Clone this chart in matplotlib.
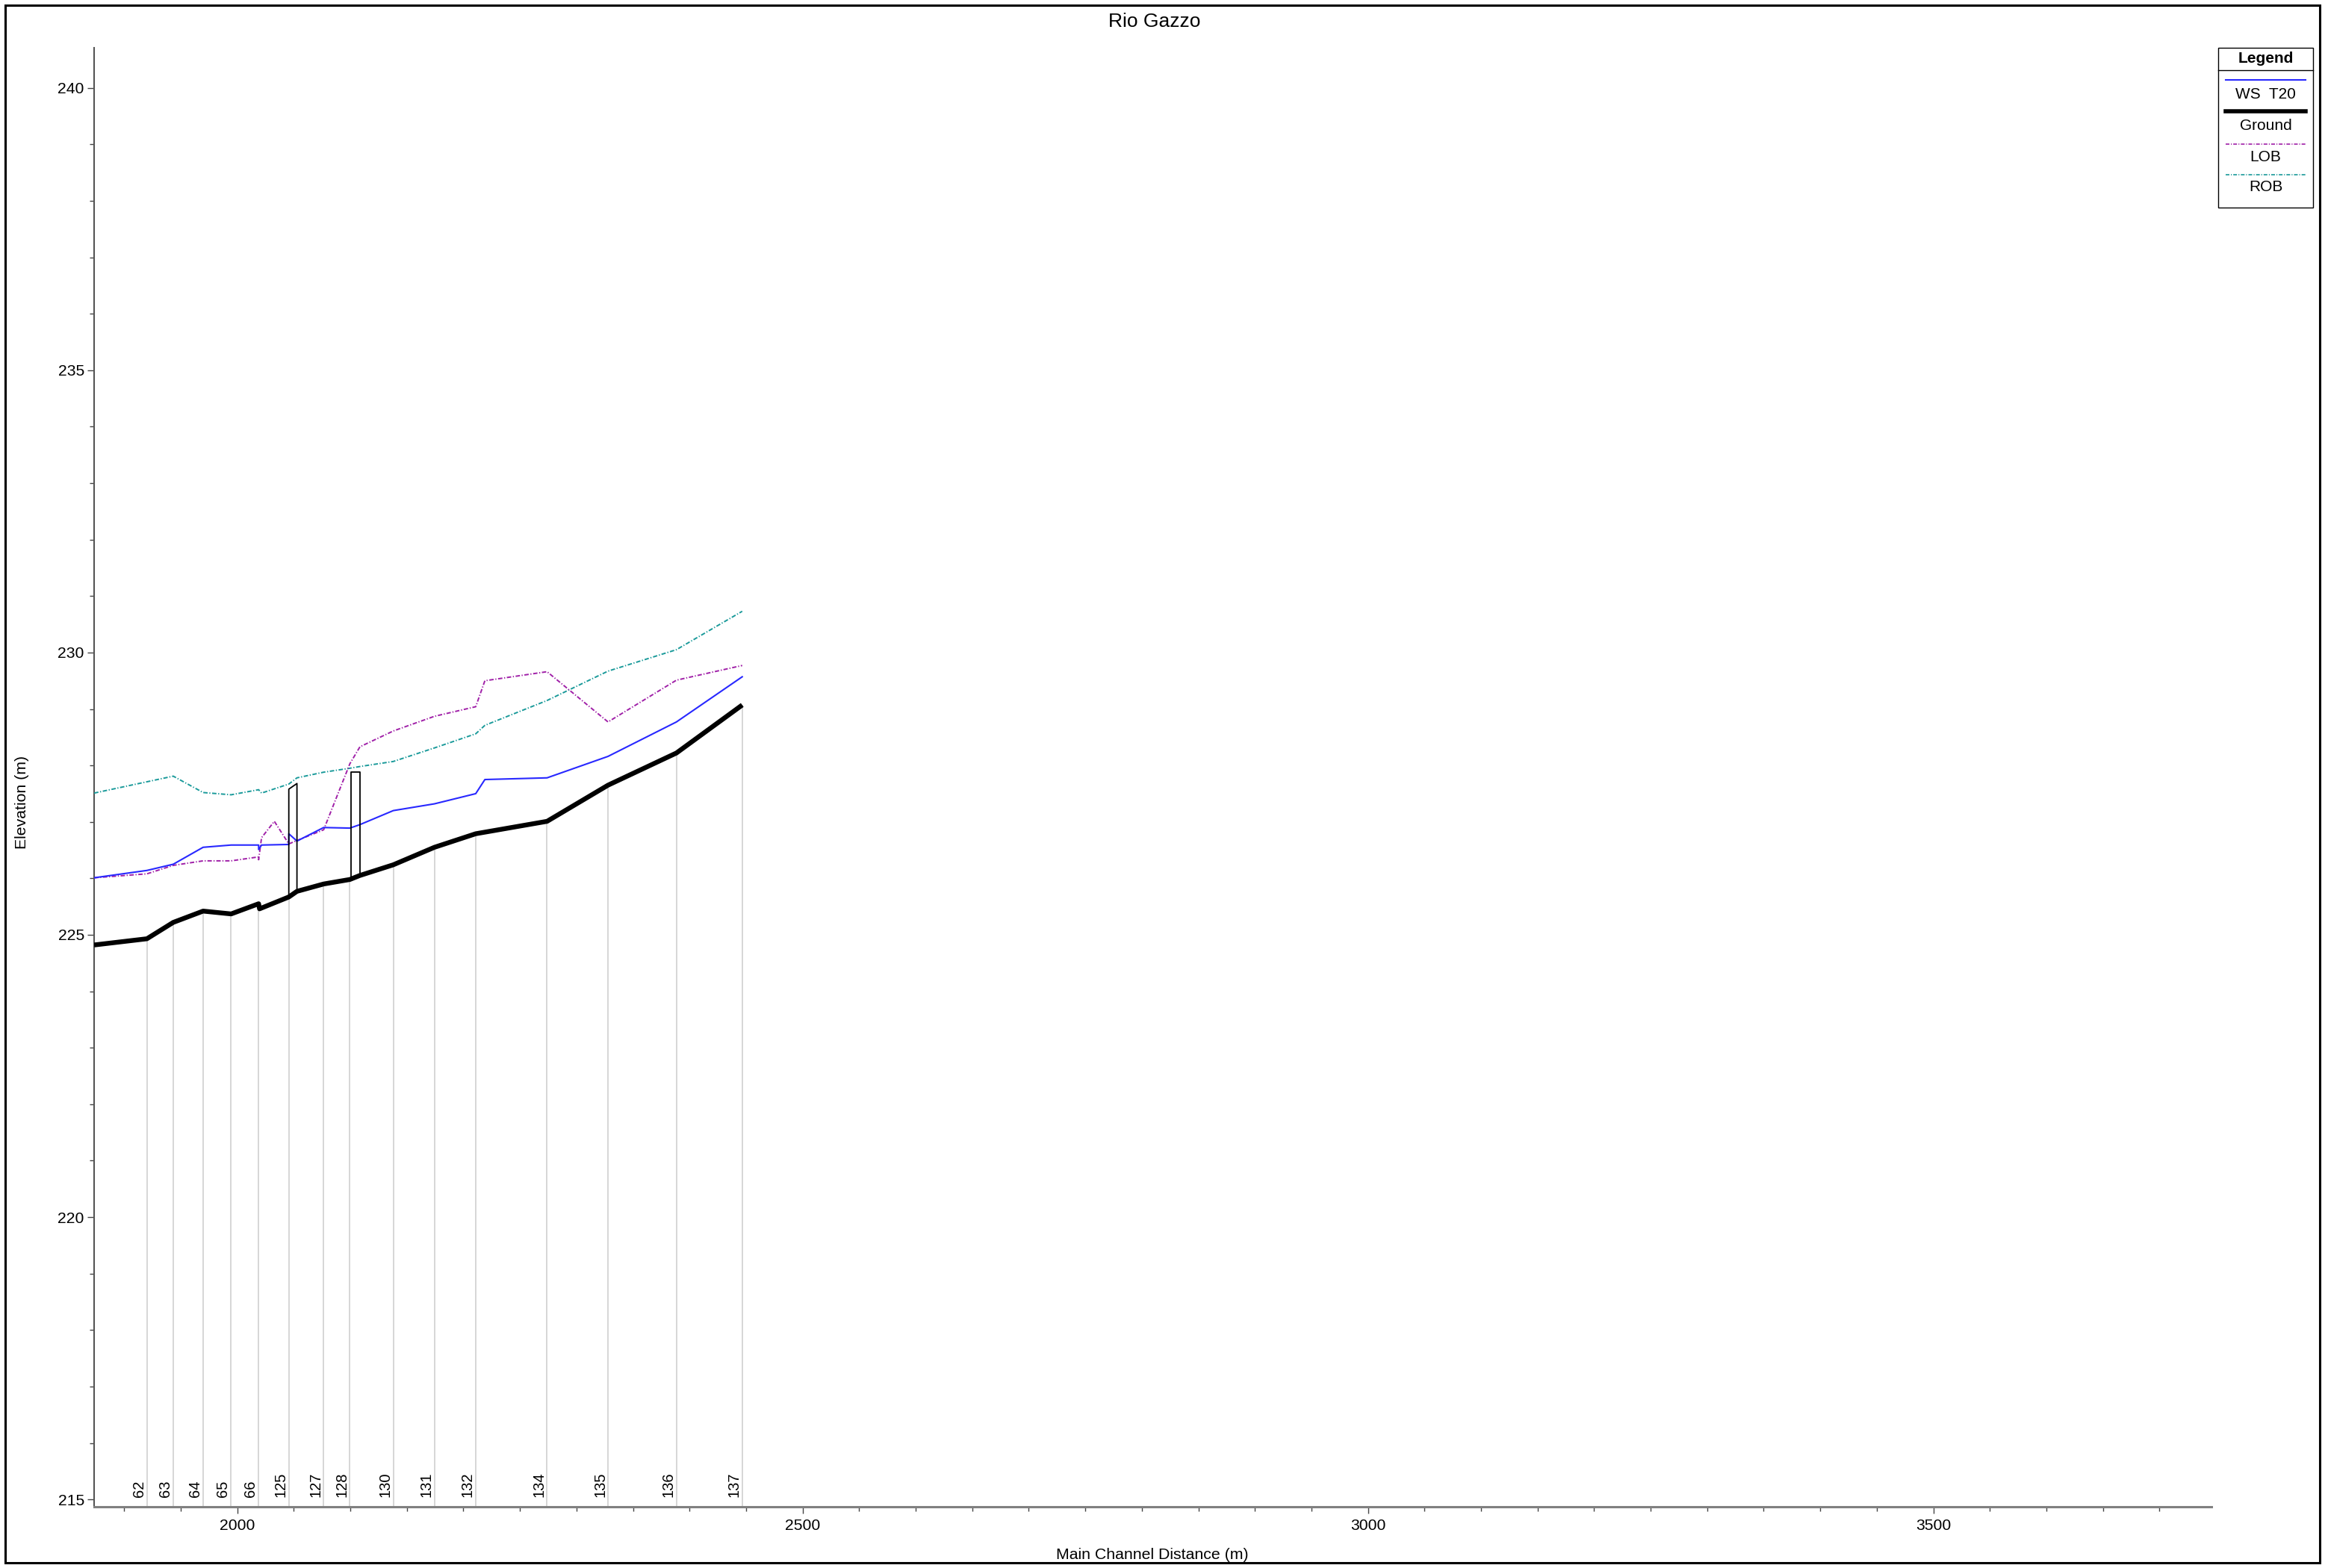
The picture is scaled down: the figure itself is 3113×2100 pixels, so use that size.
import matplotlib
matplotlib.use("Agg")
import matplotlib.pyplot as plt
import numpy as np
from matplotlib.lines import Line2D
from matplotlib.patches import Rectangle
from matplotlib.ticker import MultipleLocator
import matplotlib.transforms as mtransforms

plt.rcParams['font.family'] = ['Liberation Sans', 'DejaVu Sans']

# ---------------- data ----------------
title = "Rio Gazzo"

sec_names = ['62', '63', '64', '65', '66', '125', '127', '128', '130',
             '131', '132', '134', '135', '136', '137']
sec_x = [1920.1, 1943.4, 1969.8, 1994.6, 2018.9, 2045.6, 2076.4, 2099.6,
         2138.0, 2174.4, 2210.9, 2274.0, 2327.9, 2388.4, 2446.6]

ground_x = [1873.4, 1920.1, 1943.4, 1969.8, 1994.6, 2018.9, 2019.7, 2045.6,
            2052.8, 2076.4, 2099.6, 2108.3, 2138.0, 2174.4, 2210.9, 2274.0,
            2327.9, 2388.4, 2446.6]
ground_z = [224.82, 224.93, 225.22, 225.42, 225.37, 225.55, 225.46, 225.67,
            225.77, 225.90, 225.98, 226.05, 226.24, 226.55, 226.79, 227.01,
            227.65, 228.22, 229.07]

ws_x = [1873.4, 1920.1, 1943.4, 1969.8, 1994.6, 2018.9, 2018.9, 2021.5,
        2045.6, 2045.6, 2052.8, 2076.4, 2099.6, 2108.3, 2138.0, 2174.4,
        2210.9, 2219.0, 2274.0, 2327.9, 2388.4, 2446.6]
ws_z = [226.01, 226.14, 226.25, 226.55, 226.59, 226.59, 226.51, 226.59,
        226.60, 226.79, 226.66, 226.90, 226.89, 226.95, 227.20, 227.32,
        227.50, 227.75, 227.78, 228.16, 228.77, 229.57]

lob_x = [1873.4, 1920.1, 1943.4, 1969.8, 1994.6, 2018.9, 2018.9, 2021.5,
         2032.8, 2045.6, 2052.8, 2076.4, 2099.6, 2108.5, 2138.0, 2174.4,
         2210.9, 2219.0, 2274.0, 2327.9, 2388.4, 2446.6]
lob_z = [226.01, 226.08, 226.23, 226.31, 226.31, 226.38, 226.33, 226.72,
         227.01, 226.61, 226.67, 226.86, 228.03, 228.33, 228.61, 228.87,
         229.04, 229.50, 229.66, 228.77, 229.51, 229.77]

rob_x = [1873.4, 1943.4, 1969.8, 1994.6, 2018.9, 2021.5, 2045.6, 2052.8,
         2076.4, 2099.6, 2108.3, 2138.0, 2174.4, 2210.9, 2219.0, 2274.0,
         2327.9, 2388.4, 2446.6]
rob_z = [227.51, 227.81, 227.52, 227.48, 227.57, 227.51, 227.67, 227.78,
         227.88, 227.95, 227.98, 228.07, 228.31, 228.56, 228.71, 229.15,
         229.67, 230.05, 230.73]

# bridges: [x_left, x_right], top [left, right], bottom [left, right]
bridge1_x = [2045.6, 2052.8]
bridge1_top = [227.58, 227.68]
bridge1_bot = [225.67, 225.77]
bridge2_x = [2100.8, 2108.3]
bridge2_top = [227.88, 227.88]
bridge2_bot = [226.00, 226.05]

legend_labels = ['WS  T20', 'Ground', 'LOB', 'ROB']

xlim = (1873.4, 3746.0)
ylim = (214.87, 240.71)

# ---------------- figure ----------------
W, H = 3113, 2100
fig = plt.figure(figsize=(W / 100, H / 100), dpi=100)
ax = fig.add_axes([126 / W, 1 - 2018 / H, (2961 - 126) / W, (2018 - 64) / H])

ws_color = '#2828ff'
lob_color = '#a020a8'
rob_color = '#1a9a9a'

# section lines
g_at_sec = np.interp(sec_x, ground_x, ground_z)
ax.vlines(sec_x, ylim[0], g_at_sec, colors='#cccccc', linewidth=1.1, zorder=1)

ax.plot(rob_x, rob_z, color=rob_color, lw=1.4, dashes=(3, 1.2, 0.7, 1.2), zorder=3)
ax.plot(lob_x, lob_z, color=lob_color, lw=1.4, dashes=(3, 1.2, 0.7, 1.2), zorder=3)
ax.plot(ws_x, ws_z, color=ws_color, lw=1.5, zorder=4)

for bx, bt, bb in [(bridge1_x, bridge1_top, bridge1_bot), (bridge2_x, bridge2_top, bridge2_bot)]:
    px = [bx[0], bx[0], bx[1], bx[1]]
    py = [bb[0], bt[0], bt[1], bb[1]]
    ax.plot(px, py, color='black', lw=1.3, zorder=5)

ax.plot(ground_x, ground_z, color='black', lw=4.6, zorder=6, solid_capstyle='butt')

# section labels
trans = mtransforms.blended_transform_factory(ax.transData, ax.transAxes)
trans = mtransforms.offset_copy(trans, fig=fig, x=-1, y=0, units='dots')
for name, sx in zip(sec_names, sec_x):
    ax.text(sx, 0.0066, name, transform=trans, rotation=90, ha='right', va='bottom',
            fontsize=14.5, color='black', zorder=7)

ax.set_xlim(*xlim)
ax.set_ylim(*ylim)
ax.xaxis.set_major_locator(MultipleLocator(500))
ax.xaxis.set_minor_locator(MultipleLocator(50))
ax.yaxis.set_major_locator(MultipleLocator(5))
ax.yaxis.set_minor_locator(MultipleLocator(1))

for s in ['top', 'right']:
    ax.spines[s].set_visible(False)
ax.spines['left'].set_color('#555555')
ax.spines['left'].set_linewidth(1.5)
ax.spines['bottom'].set_color('#808080')
ax.spines['bottom'].set_linewidth(2.2)

ax.tick_params(axis='both', which='major', length=6.5, width=1.0, color='#444444',
               labelsize=15.2, pad=3)
ax.tick_params(axis='both', which='minor', length=4.0, width=1.0, color='#444444')
ax.tick_params(axis='x', which='major', pad=5)

fig.text(1546 / W, 1 - 29 / H, title, ha='center', va='center', fontsize=19)
fig.text(1543 / W, 1 - 2083 / H, 'Main Channel Distance (m)', ha='center', va='center',
         fontsize=15.3)
fig.text(30 / W, 1 - 1074 / H, 'Elevation (m)', ha='center', va='center',
         rotation=90, fontsize=15.3)

# figure frame
fig.add_artist(Rectangle((7 / W, 7 / H), (3106 - 7) / W, (2093 - 7) / H,
                         transform=fig.transFigure, fill=False, edgecolor='black',
                         linewidth=2.2))

# legend (manual, HEC-RAS style)
lx0, lx1, ly0, ly1 = 2970, 3097, 64, 278
fig.add_artist(Rectangle((lx0 / W, 1 - ly1 / H), (lx1 - lx0) / W, (ly1 - ly0) / H,
                         transform=fig.transFigure, fill=True, facecolor='white',
                         edgecolor='black', linewidth=1.0))
fig.add_artist(Line2D([lx0 / W, lx1 / W], [1 - 94 / H, 1 - 94 / H],
                      transform=fig.transFigure, color='black', lw=1.0))
fig.text((lx0 + lx1) / 2 / W, 1 - 78 / H, 'Legend', ha='center', va='center',
         fontsize=15, fontweight='bold')
leg_styles = [
    dict(color=ws_color, lw=1.5),
    dict(color='black', lw=4.0),
    dict(color=lob_color, lw=1.2, dashes=(3, 1.2, 0.7, 1.2)),
    dict(color=rob_color, lw=1.2, dashes=(3, 1.2, 0.7, 1.2)),
]
line_y = [107, 149, 193, 234]
text_y = [126, 168, 211, 250]
for lab, st, yl, yt in zip(legend_labels, leg_styles, line_y, text_y):
    fig.add_artist(Line2D([2980 / W, 3087 / W], [1 - yl / H, 1 - yl / H],
                          transform=fig.transFigure, **st))
    fig.text((lx0 + lx1) / 2 / W, 1 - yt / H, lab, ha='center', va='center', fontsize=15)

fig.savefig('out.png', dpi=100, facecolor='white')
